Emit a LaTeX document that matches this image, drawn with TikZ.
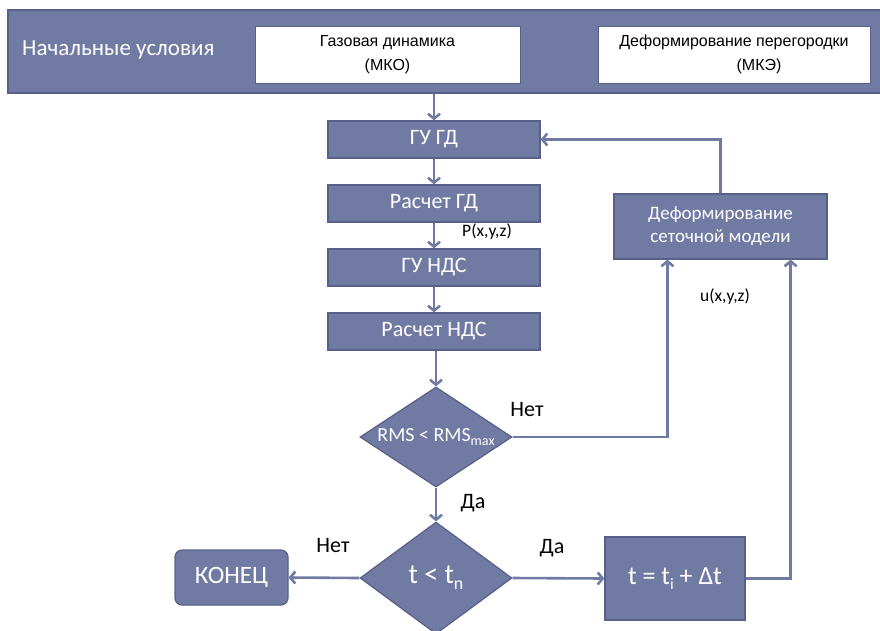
\documentclass[tikz,border=0pt]{standalone}
\usepackage{fontspec}
\setmainfont{Carlito}
\newfontfamily\arialfont{Liberation Sans}
\usetikzlibrary{arrows.meta, positioning, shapes.geometric}
\definecolor{boxfill}{RGB}{112,122,163}
\definecolor{boxline}{RGB}{86,96,136}
\newcommand{\lowsub}[2]{\raisebox{-0.45ex}{\fontsize{#1}{#1}\selectfont #2}}

\begin{document}
\begin{tikzpicture}[x=1pt, y=-1pt,
      stepbox/.style={rectangle, draw=boxline, line width=1.2pt, fill=boxfill, text=white,
        minimum width=212pt, minimum height=37pt, inner sep=2pt, font=\fontsize{22}{26}\selectfont},
      decision/.style={diamond, draw=boxline, line width=1.2pt, fill=boxfill, text=white,
        aspect=1.5, inner sep=0pt, minimum width=152pt},
      whitebox/.style={rectangle, fill=white, draw=boxline, line width=0.6pt, align=center,
        font=\arialfont\fontsize{16}{22}\selectfont},
      flow/.style={draw=boxfill, line width=2.6pt, -{Straight Barb[length=5pt, width=12pt]}},
      lbl/.style={font=\fontsize{22}{26}\selectfont, text=black, inner sep=0pt},
      small/.style={font=\fontsize{17.5}{20}\selectfont, text=black, inner sep=0pt}
    ]
      \useasboundingbox (0,0) rectangle (880,630);

      % top band with the initial conditions
      \node[rectangle, draw=boxline, line width=1.5pt, fill=boxfill, minimum width=882pt,
        minimum height=83pt] (init) at (449,51.5) {};
      \node[anchor=west, text=white, inner sep=0pt, font=\fontsize{23}{26}\selectfont]
        (initlbl) at (22,50) {Начальные условия};
      \node[whitebox, minimum width=265pt, minimum height=57pt] (gas) at (387.5,54.5)
        {Газовая динамика\\[2pt](МКО)};
      \node[whitebox, minimum width=272pt, minimum height=57pt] (wall) at (734,54.5)
        {Деформирование перегородки\\[2pt]\hspace*{50pt}(МКЭ)};

      % main column
      \node[stepbox] (gugd) at (434,139.5) {ГУ ГД};
      \node[stepbox] (calcgd) at (434,203.5) {Расчет ГД};
      \node[stepbox] (gunds) at (434,267.5) {ГУ НДС};
      \node[stepbox] (calcnds) at (434,331.5) {Расчет НДС};
      \node[decision, minimum height=100pt, font=\fontsize{20}{24}\selectfont] (rms) at (436,437)
        {RMS < RMS\lowsub{14}{max}};
      \node[decision, minimum height=112pt, font=\fontsize{28}{32}\selectfont] (tcheck) at (436,578)
        {t < t\lowsub{18}{n}};
      \node[rectangle, rounded corners=7pt, draw=boxline, line width=1.2pt, fill=boxfill, text=white,
        minimum width=113pt, minimum height=55pt, font=\fontsize{25}{28}\selectfont] (fin) at (231.5,577.5)
        {КОНЕЦ};
      \node[rectangle, draw=boxline, line width=1.2pt, fill=boxfill, text=white,
        minimum width=140pt, minimum height=83pt, font=\fontsize{26}{30}\selectfont] (tstep) at (675,578.5)
        {t = t\lowsub{16}{i} + Δt};
      \node[stepbox, minimum width=213pt, minimum height=65pt, align=center,
        font=\fontsize{19}{23}\selectfont] (deform) at (720.5,226.5)
        {Деформирование\\сеточной модели};

      % connectors
      \draw[flow] (gugd |- init.south) -- (gugd.north);
      \draw[flow] (gugd) -- (calcgd);
      \draw[flow] (calcgd) -- (gunds);
      \draw[flow] (gunds) -- (calcnds);
      \draw[flow] (calcnds.south -| rms.north) -- (rms.north);
      \draw[flow] (rms.south) -- (tcheck.north);
      \draw[flow] (tcheck.west) -- (fin.east);
      \draw[flow] (tcheck.east) -- (tstep.west);
      \draw[flow] (rms.east) -| ([xshift=54pt]deform.south west);
      \draw[flow] (tstep.east) -| ([xshift=-37pt]deform.south east);
      \draw[flow] (deform.north) |- (gugd.east);

      % labels
      \node[small] (plbl) at (487,232) {P(x,y,z)};
      \node[small] (ulbl) at (725,297) {u(x,y,z)};
      \node[lbl] (rmsno) at (527,410) {Нет};
      \node[lbl] (rmsyes) at (473,503) {Да};
      \node[lbl] (tno) at (333,546) {Нет};
      \node[lbl] (tyes) at (552,548) {Да};
    \end{tikzpicture}
\end{document}
